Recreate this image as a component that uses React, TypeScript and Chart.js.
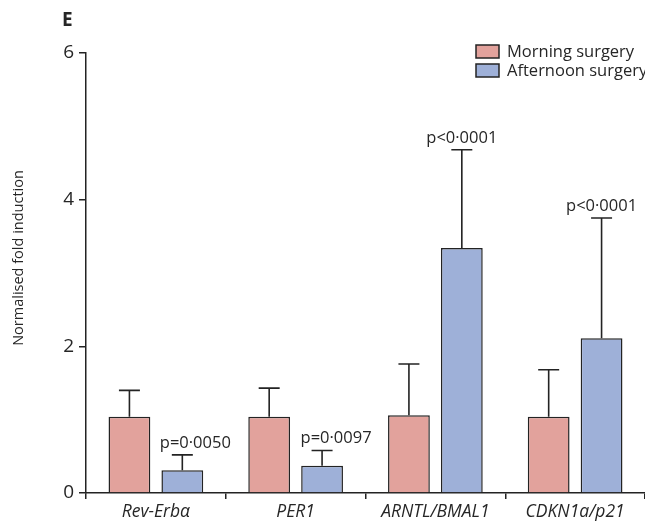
import React, { useEffect, useRef } from "react";
import { Chart, registerables } from "chart.js";

Chart.register(...registerables);

const categories = ["Rev-Erbα", "PER1", "ARNTL/BMAL1", "CDKN1a/p21"];
const seriesLabels = ["Morning surgery", "Afternoon surgery"];
const morningMean = [1.04, 1.04, 1.06, 1.04];
const morningSD = [0.36, 0.39, 0.7, 0.64];
const afternoonMean = [0.31, 0.37, 3.34, 2.11];
const afternoonSD = [0.21, 0.21, 1.34, 1.64];
const pValues = ["p=0·0050", "p=0·0097", "p<0·0001", "p<0·0001"];
const yTicks = [0, 2, 4, 6];
const panelLetter = "E";
const yTitle = "Normalised fold induction";

const FONT = "'Open Sans', 'Noto Sans', sans-serif";
const INK = "#232323";
const TEXT = "#262626";
const MORNING = "#e2a29c";
const AFTERNOON = "#9eb0d8";
const pShift = [13, 14, 0, 0];

const errorBars = {
  id: "errorBars",
  afterDatasetsDraw(chart: any) {
    const ctx = chart.ctx;
    const y = chart.scales.y;
    const sds = [morningSD, afternoonSD];
    chart.data.datasets.forEach((ds: any, di: number) => {
      const meta = chart.getDatasetMeta(di);
      meta.data.forEach((bar: any, i: number) => {
        const v = ds.data[i] as number;
        const top = y.getPixelForValue(v + sds[di][i]);
        const base = y.getPixelForValue(v);
        ctx.save();
        ctx.strokeStyle = INK;
        ctx.lineWidth = 1.6;
        ctx.beginPath();
        ctx.moveTo(bar.x, base);
        ctx.lineTo(bar.x, top);
        ctx.moveTo(bar.x - 10.5, top);
        ctx.lineTo(bar.x + 10.5, top);
        ctx.stroke();
        ctx.restore();
      });
    });
    const meta = chart.getDatasetMeta(1);
    ctx.save();
    ctx.fillStyle = TEXT;
    ctx.font = `16.5px ${FONT}`;
    ctx.textAlign = "center";
    ctx.textBaseline = "middle";
    meta.data.forEach((bar: any, i: number) => {
      const top = y.getPixelForValue(afternoonMean[i] + afternoonSD[i]);
      ctx.fillText(pValues[i], bar.x + pShift[i], top - 12);
    });
    ctx.restore();
  },
};

const customLegend = {
  id: "customLegend",
  afterDraw(chart: any) {
    const ctx = chart.ctx;
    ctx.save();
    chart.data.datasets.forEach((ds: any, i: number) => {
      const bx = 476;
      const by = 45 + i * 19;
      ctx.fillStyle = ds.backgroundColor;
      ctx.fillRect(bx, by, 23, 13);
      ctx.strokeStyle = INK;
      ctx.lineWidth = 1.5;
      ctx.strokeRect(bx, by, 23, 13);
      ctx.fillStyle = TEXT;
      ctx.font = `16.5px ${FONT}`;
      ctx.textAlign = "left";
      ctx.textBaseline = "middle";
      ctx.fillText(ds.label, bx + 31, by + 7);
    });
    ctx.font = `bold 19px ${FONT}`;
    ctx.fillStyle = TEXT;
    ctx.textAlign = "left";
    ctx.textBaseline = "middle";
    ctx.fillText(panelLetter, 62, 21);

    ctx.translate(19, 258);
    ctx.rotate(-Math.PI / 2);
    ctx.font = `14.5px ${FONT}`;
    ctx.textAlign = "center";
    ctx.fillText(yTitle, 0, 0);
    ctx.restore();
  },
};

export default function App() {
  const ref = useRef<HTMLCanvasElement>(null);
  useEffect(() => {
    if (!ref.current) return;
    const chart = new Chart(ref.current, {
      type: "bar",
      data: {
        labels: categories,
        datasets: [
          {
            label: seriesLabels[0],
            data: morningMean,
            backgroundColor: MORNING,
            borderColor: INK,
            borderWidth: 1.5,
            borderSkipped: "bottom",
          },
          {
            label: seriesLabels[1],
            data: afternoonMean,
            backgroundColor: AFTERNOON,
            borderColor: INK,
            borderWidth: 1.5,
            borderSkipped: "bottom",
          },
        ],
      },
      options: {
        animation: false,
        responsive: true,
        maintainAspectRatio: false,
        datasets: { bar: { categoryPercentage: 0.757, barPercentage: 0.79 } },
        layout: { padding: { top: 53, right: 0, left: 0, bottom: 0 } },
        plugins: {
          legend: { display: false },
          tooltip: { enabled: false },
        },
        scales: {
          x: {
            offset: true,
            grid: {
              offset: true,
              drawOnChartArea: false,
              drawTicks: true,
              tickLength: 6,
              color: INK,
              lineWidth: 1.5,
            },
            border: { display: true, color: INK, width: 1.5 },
            ticks: {
              color: TEXT,
              font: { family: FONT, size: 17.5, style: "italic" },
              padding: 3,
              maxRotation: 0,
            },
            afterFit(scale: any) {
              scale.height = 35;
            },
          },
          y: {
            min: 0,
            max: 6,
            afterBuildTicks(scale: any) {
              scale.ticks = yTicks.map((v) => ({ value: v }));
            },
            grid: {
              drawOnChartArea: false,
              drawTicks: true,
              tickLength: 7,
              color: INK,
              lineWidth: 1.5,
            },
            border: { display: true, color: INK, width: 1.5 },
            ticks: {
              color: TEXT,
              font: { family: FONT, size: 19 },
              padding: 5,
            },
            title: { display: false },
            afterFit(scale: any) {
              scale.width = 86;
            },
          },
        },
      },
      plugins: [errorBars, customLegend],
    });
    return () => chart.destroy();
  }, []);
  return (
    <div style={{ position: "absolute", left: 0, top: 0, width: 645, height: 528 }}>
      <canvas ref={ref} />
    </div>
  );
}
